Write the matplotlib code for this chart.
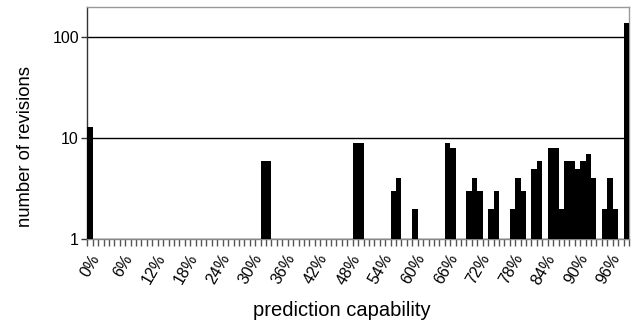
import matplotlib
matplotlib.use("Agg")
import matplotlib.pyplot as plt
import numpy as np

plt.rcParams['font.family'] = ['Liberation Sans', 'DejaVu Sans']

# prediction capability bins 0%..99% (one bar per percent)
categories = [f"{i}%" for i in range(100)]
revisions = [
    13, 0, 0, 0, 0, 0, 0, 0, 0, 0,
    0, 0, 0, 0, 0, 0, 0, 0, 0, 0,
    0, 0, 0, 0, 0, 0, 0, 0, 0, 0,
    0, 0, 6, 6, 0, 0, 0, 0, 0, 0,
    0, 0, 0, 0, 0, 0, 0, 0, 0, 9,
    9, 0, 0, 0, 0, 0, 3, 4, 0, 0,
    2, 0, 0, 0, 0, 0, 9, 8, 0, 0,
    3, 4, 3, 0, 2, 3, 0, 0, 2, 4,
    3, 0, 5, 6, 0, 8, 8, 2, 6, 6,
    5, 6, 7, 4, 0, 2, 4, 2, 0, 140,
]
tick_positions = [0, 6, 12, 18, 24, 30, 36, 42, 48, 54, 60, 66, 72, 78, 84, 90, 96]
tick_labels = ["0%", "6%", "12%", "18%", "24%", "30%", "36%", "42%", "48%",
               "54%", "60%", "66%", "72%", "78%", "84%", "90%", "96%"]
y_ticks = [1, 10, 100]

fig = plt.figure(figsize=(6.37, 3.21), dpi=100)
ax = fig.add_axes([87.3/637, 1-239/321, (629-87.3)/637, (239-7)/321])

x = np.arange(len(categories))
ax.bar(x, revisions, width=1.0, color='black', edgecolor='none', zorder=3)

ax.set_yscale('log')
ax.set_ylim(1, 200)
ax.set_xlim(-0.5, len(categories) - 0.5)

ax.set_yticks(y_ticks)
ax.set_yticklabels([str(v) for v in y_ticks])
ax.yaxis.set_minor_locator(matplotlib.ticker.NullLocator())
ax.tick_params(axis='y', which='major', length=4, width=1, color='#333333',
               labelsize=11.5, pad=2)
ax.yaxis.grid(True, which='major', color='black', linewidth=1.0, zorder=1)

ax.set_xticks(tick_positions)
ax.set_xticklabels(tick_labels, rotation=60, ha='right', va='top',
                   rotation_mode='anchor', fontsize=11.5)
ax.tick_params(axis='x', which='major', length=0, pad=9)
ax.set_xticks(np.arange(len(categories) + 1) - 0.5, minor=True)
ax.tick_params(axis='x', which='minor', length=5, width=1, color='#555555')

ax.spines['left'].set_color('#333333')
ax.spines['bottom'].set_color('#888888')
ax.spines['top'].set_color('#999999')
ax.spines['right'].set_color('#999999')
for s in ax.spines.values():
    s.set_linewidth(1.0)

fig.text(342/637, 1-310/321, "prediction capability", ha='center', va='center',
         fontsize=14.5)
fig.text(26/637, 1-147/321, "number of revisions", ha='center', va='center',
         rotation=90, fontsize=13.3)

fig.savefig("out.png", dpi=100, facecolor='white')
